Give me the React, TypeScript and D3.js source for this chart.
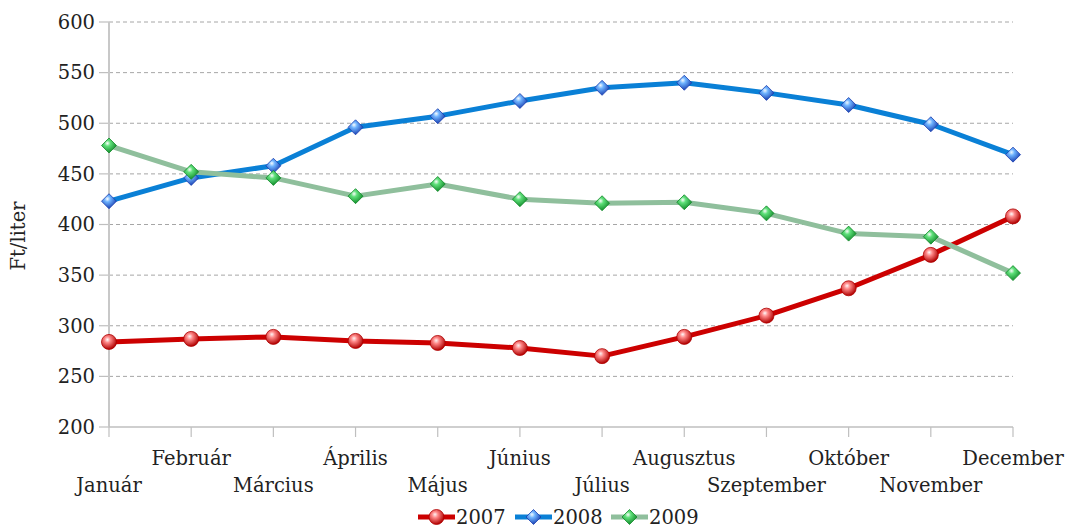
import React from 'react';
import * as d3 from 'd3';

const months = ['Január', 'Február', 'Március', 'Április', 'Május', 'Június', 'Július', 'Augusztus', 'Szeptember', 'Október', 'November', 'December'];
const values2007 = [284, 287, 289, 285, 283, 278, 270, 289, 310, 337, 370, 408];
const values2008 = [423, 446, 458, 496, 507, 522, 535, 540, 530, 518, 499, 469];
const values2009 = [478, 452, 446, 428, 440, 425, 421, 422, 411, 391, 388, 352];
const yTicks = [200, 250, 300, 350, 400, 450, 500, 550, 600];

const series = [
  { name: '2007', values: values2007, line: '#cc0000', marker: 'sphere', light: '#ff8a8a', dark: '#b00000' },
  { name: '2008', values: values2008, line: '#0a80d6', marker: 'diamond', light: '#6fb4ff', dark: '#1a3fb0' },
  { name: '2009', values: values2009, line: '#8fbf9c', marker: 'diamond', light: '#5fe07a', dark: '#118a2a' },
];

const W = 1067;
const H = 528;
const margin = { left: 109, right: 54, top: 22, bottom: 101 };
const font = '"DejaVu Serif", "Liberation Serif", serif';
const fs = 19.5;

const Marker: React.FC<{ x: number; y: number; kind: string; id: string; dark: string }> = ({ x, y, kind, id, dark }) => {
  if (kind === 'sphere') {
    return <circle cx={x} cy={y} r={7.5} fill={`url(#${id})`} stroke={dark} strokeWidth={0.8} />;
  }
  const s = 7.5;
  return (
    <path
      d={`M${x},${y - s}L${x + s},${y}L${x},${y + s}L${x - s},${y}Z`}
      fill={`url(#${id})`}
      stroke={dark}
      strokeWidth={0.8}
    />
  );
};

export default function App() {
  const innerW = W - margin.left - margin.right;
  const innerH = H - margin.top - margin.bottom;

  const x = d3.scalePoint<string>().domain(months).range([0, innerW]);
  const y = d3.scaleLinear().domain([200, 600]).range([innerH, 0]);

  const line = d3
    .line<number>()
    .x((_, i) => x(months[i]) as number)
    .y(d => y(d));

  const legendItems = [
    { s: series[0], x: 418 },
    { s: series[1], x: 515 },
    { s: series[2], x: 611 },
  ];

  return (
    <svg width={W} height={H} style={{ position: 'absolute', left: 0, top: 0 }} fontFamily={font}>
      <defs>
        {series.map(s => (
          <radialGradient key={s.name} id={`g${s.name}`} cx="40%" cy="35%" r="65%">
            <stop offset="0%" stopColor="#ffffff" stopOpacity={0.9} />
            <stop offset="30%" stopColor={s.light} />
            <stop offset="100%" stopColor={s.dark} />
          </radialGradient>
        ))}
      </defs>
      <rect width={W} height={H} fill="#fff" />
      <g transform={`translate(${margin.left},${margin.top})`}>
        {/* grid */}
        {yTicks.map(t => (
          <g key={t}>
            {t !== 200 && (
              <line x1={0} x2={innerW} y1={y(t)} y2={y(t)} stroke="#a6a6a6" strokeWidth={1} strokeDasharray="4,3" />
            )}
            <line x1={-10} x2={0} y1={y(t)} y2={y(t)} stroke="#bfbfbf" strokeWidth={1.2} />
            <text x={-14} y={y(t)} dy="0.35em" textAnchor="end" fontSize={fs} fill="#222">
              {t}
            </text>
          </g>
        ))}
        {/* axes */}
        <line x1={0} x2={0} y1={0} y2={innerH} stroke="#c8c8c8" strokeWidth={2} />
        <line x1={0} x2={innerW} y1={innerH} y2={innerH} stroke="#bfbfbf" strokeWidth={1.5} />
        {months.map((m, i) => (
          <g key={m}>
            <line x1={x(m)} x2={x(m)} y1={innerH} y2={innerH + 10} stroke="#bfbfbf" strokeWidth={1.2} />
            <text
              x={x(m)}
              y={innerH + (i % 2 === 0 ? 65 : 38)}
              textAnchor="middle"
              fontSize={fs}
              fill="#222"
            >
              {m}
            </text>
          </g>
        ))}
        {/* lines */}
        {series.map(s => (
          <path key={s.name} d={line(s.values) || ''} fill="none" stroke={s.line} strokeWidth={5} strokeLinejoin="round" />
        ))}
        {series.map(s => (
          <g key={s.name}>
            {s.values.map((v, i) => (
              <Marker key={i} x={x(months[i]) as number} y={y(v)} kind={s.marker} id={`g${s.name}`} dark={s.dark} />
            ))}
          </g>
        ))}
      </g>
      <text transform={`translate(25,${236}) rotate(-90)`} textAnchor="middle" fontSize={fs} fill="#222">
        Ft/liter
      </text>
      {/* legend */}
      {legendItems.map(({ s, x: lx }) => (
        <g key={s.name}>
          <line x1={lx} x2={lx + 37} y1={517} y2={517} stroke={s.line} strokeWidth={5} />
          <Marker x={lx + 18.5} y={517} kind={s.marker} id={`g${s.name}`} dark={s.dark} />
          <text x={lx + 38} y={517} dy="0.35em" fontSize={fs} fill="#222">
            {s.name}
          </text>
        </g>
      ))}
    </svg>
  );
}
